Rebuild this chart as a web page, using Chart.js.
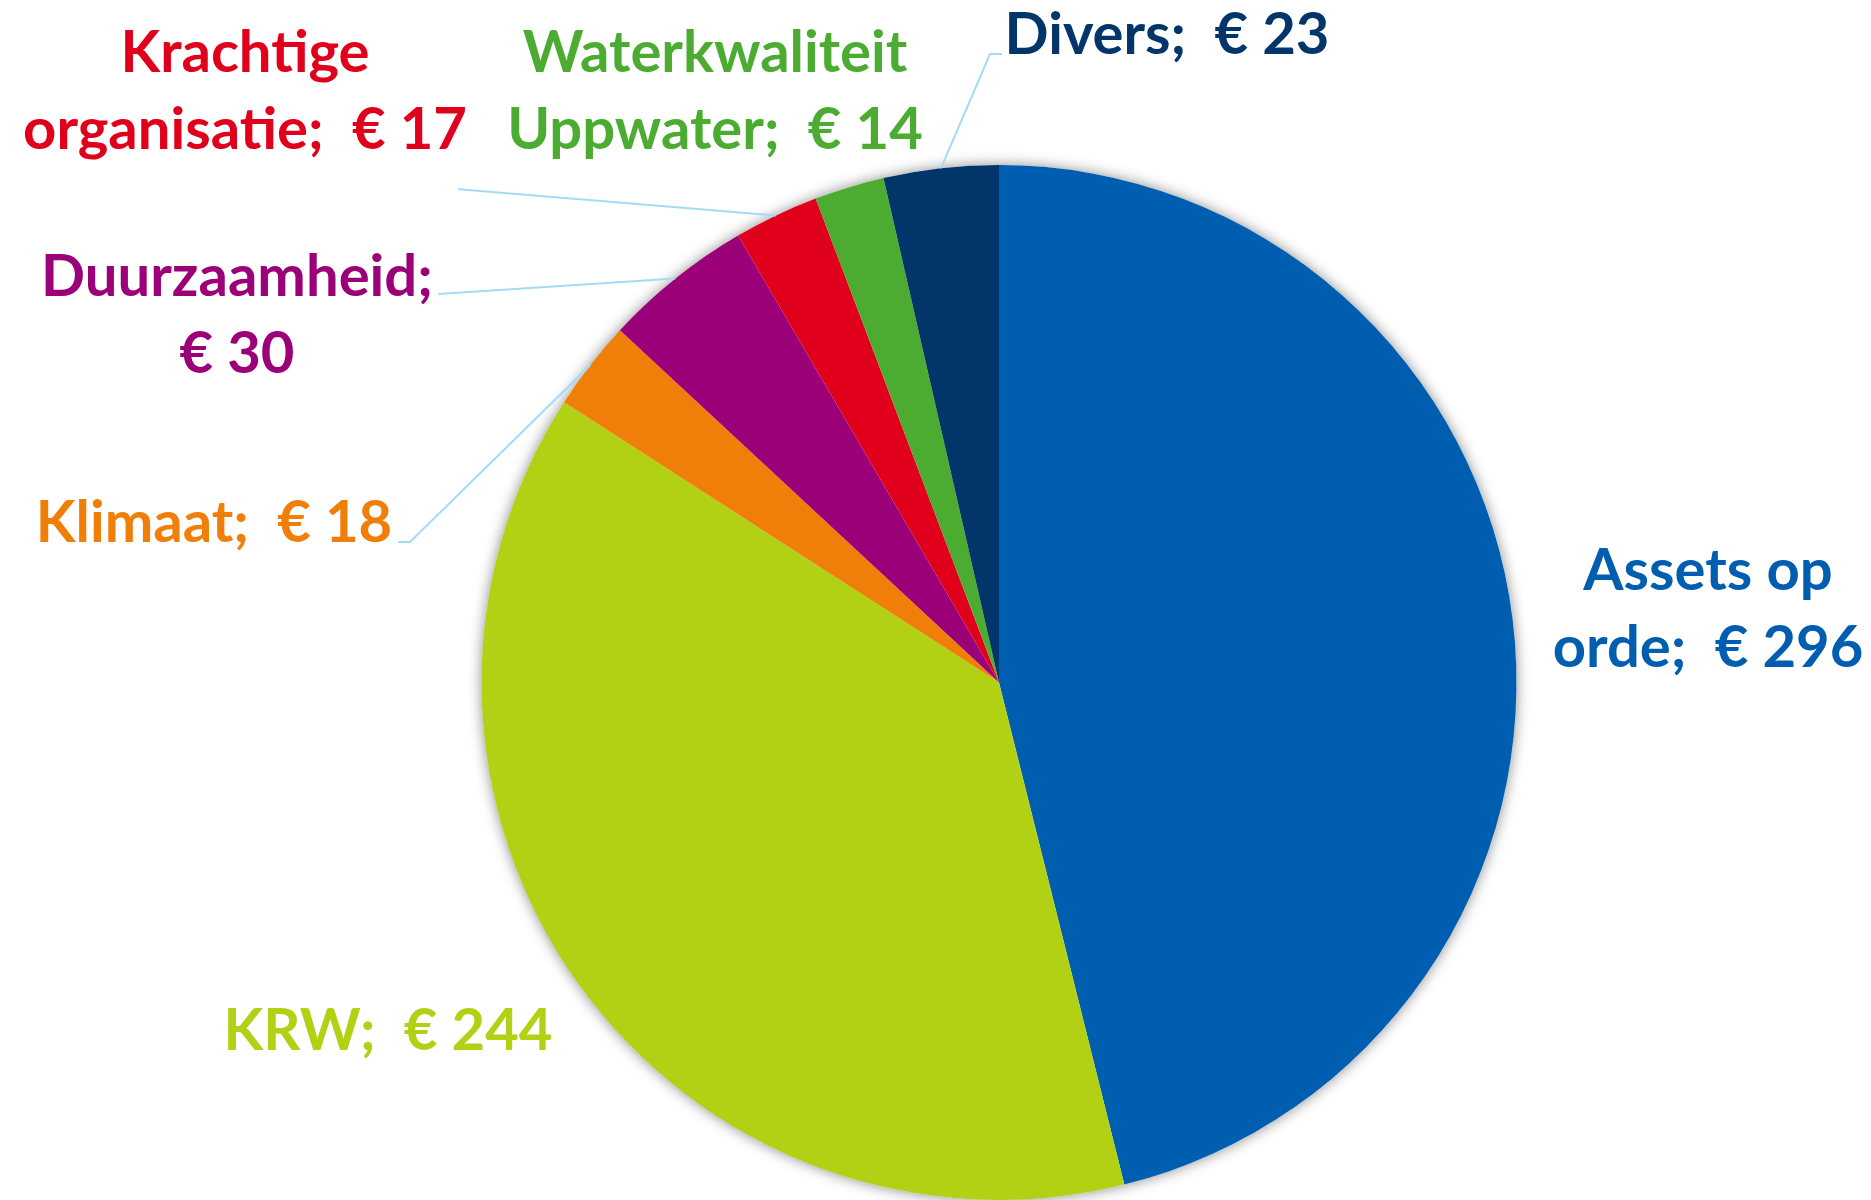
<!DOCTYPE html>
<html>
<head>
<meta charset="utf-8">
<script src="https://cdn.jsdelivr.net/npm/chart.js@4.4.1/dist/chart.umd.min.js"></script>
<style>
    html, body { margin: 0; padding: 0; background: #fff; }
    #wrap { width: 1871px; height: 1200px; }
</style>
</head>
<body>
<div id="wrap"><canvas id="canvas" width="1871" height="1200"></canvas></div>
<script>
const categories = ['Assets op orde', 'KRW', 'Klimaat', 'Duurzaamheid', 'Krachtige organisatie', 'Waterkwaliteit Uppwater', 'Divers'];
const values = [296, 244, 18, 30, 17, 14, 23];
const colors = ['#005eb0', '#b2d014', '#f07f0a', '#9c0078', '#e0001b', '#4cac32', '#02366a'];
const textColors = ['#005eb0', '#b2d014', '#f07f0a', '#9c0078', '#e0001b', '#4cac32', '#02366a'];

// where each label sits: centre x, baseline of first line, words on first line
const labelLayout = [
    { x: 1708, y: 590, breakAt: 2 },
    { x: 388, y: 1050, breakAt: 0 },
    { x: 214, y: 542, breakAt: 0 },
    { x: 237, y: 296, breakAt: 1 },
    { x: 245, y: 72, breakAt: 1 },
    { x: 715, y: 72, breakAt: 1 },
    { x: 1167, y: 54, breakAt: 0 }
];

// leader lines: points after the slice edge
const leaders = [
    null,
    null,
    [[410, 542], [398, 542]],
    [[438, 294]],
    [[468, 190], [458, 189]],
    null,
    [[990, 54], [1002, 54]]
];

const LINE_H = 77;
const FONT = 'bold 58px Lato';

function labelLines(i) {
    const words = categories[i].split(' ');
    words[words.length - 1] += ';';
    const money = '€ ' + values[i];
    const b = labelLayout[i].breakAt;
    if (b === 0) return [words.join(' ') + '  ' + money];
    const first = words.slice(0, b).join(' ');
    const rest = words.slice(b);
    const second = rest.length ? rest.join(' ') + '  ' + money : money;
    return [first, second];
}

const ctx = document.getElementById('canvas').getContext('2d');

const shadowPlugin = {
    id: 'shadow',
    beforeDatasetsDraw: (chart) => {
        const arc = chart.getDatasetMeta(0).data[0];
        if (!arc) return;
        const c = chart.ctx;
        c.save();
        c.shadowColor = 'rgba(0, 0, 0, 0.45)';
        c.shadowBlur = 14;
        c.fillStyle = '#ffffff';
        c.beginPath();
        c.arc(arc.x, arc.y, arc.outerRadius, 0, 2 * Math.PI);
        c.fill();
        c.restore();
    }
};

const labelPlugin = {
    id: 'labels',
    afterDatasetsDraw: (chart) => {
        const c = chart.ctx;
        const arcs = chart.getDatasetMeta(0).data;
        c.save();
        c.strokeStyle = '#a3dbf6';
        c.lineWidth = 2;
        arcs.forEach((arc, i) => {
            const pts = leaders[i];
            if (!pts) return;
            const mid = (arc.startAngle + arc.endAngle) / 2;
            c.beginPath();
            c.moveTo(arc.x + Math.cos(mid) * arc.outerRadius, arc.y + Math.sin(mid) * arc.outerRadius);
            pts.forEach(p => c.lineTo(p[0], p[1]));
            c.stroke();
        });
        c.font = FONT;
        c.textAlign = 'center';
        c.textBaseline = 'alphabetic';
        categories.forEach((name, i) => {
            const pos = labelLayout[i];
            c.fillStyle = textColors[i];
            labelLines(i).forEach((line, k) => {
                c.fillText(line, pos.x, pos.y + k * LINE_H);
            });
        });
        c.restore();
    }
};

const chart = new Chart(ctx, {
    type: 'pie',
    data: {
        labels: categories,
        datasets: [{
            data: values,
            backgroundColor: colors,
            borderWidth: 0
        }]
    },
    options: {
        responsive: false,
        animation: false,
        layout: {
            padding: { top: 165, bottom: 0, left: 200, right: 73 }
        },
        plugins: {
            legend: { display: false },
            tooltip: { enabled: false }
        }
    },
    plugins: [shadowPlugin, labelPlugin]
});
</script>
</body>
</html>
